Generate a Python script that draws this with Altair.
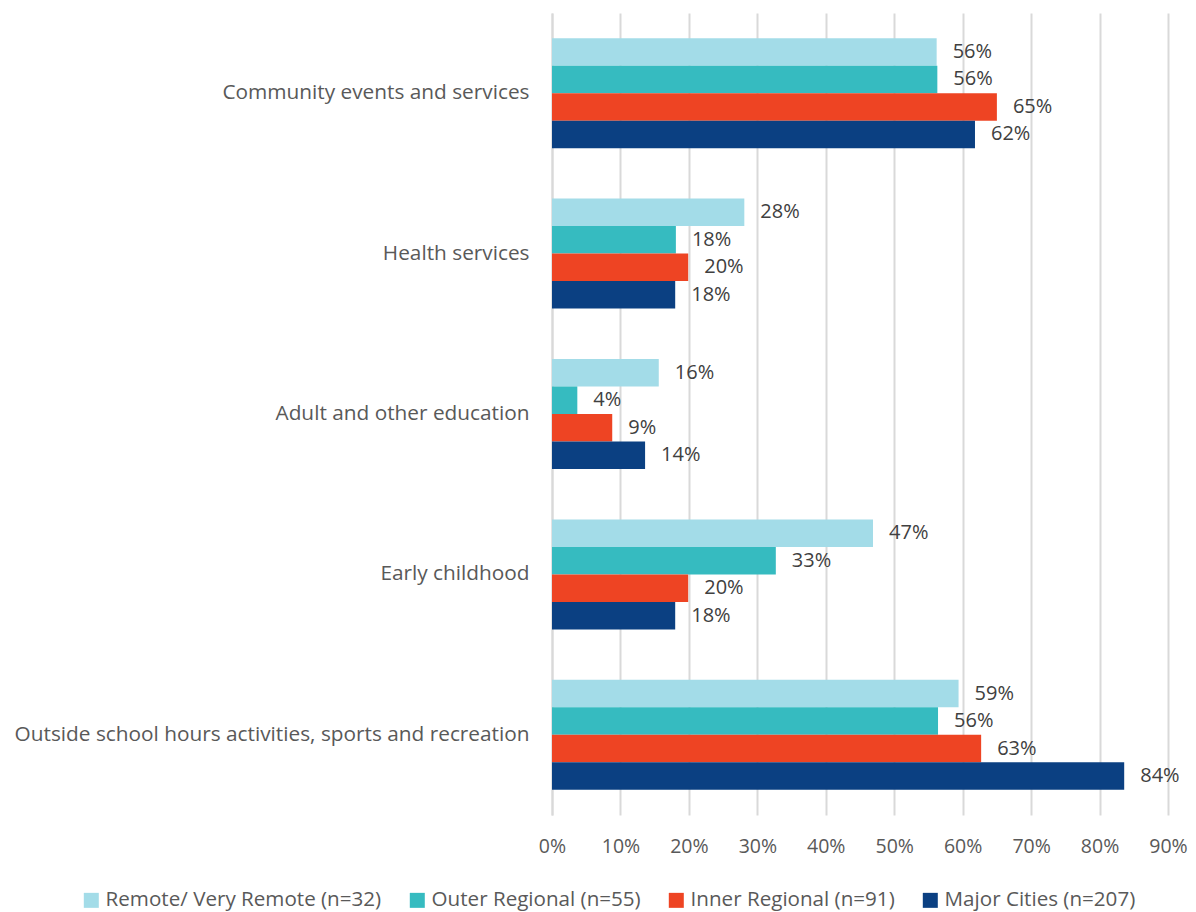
import altair as alt
import pandas as pd

categories = [
    "Community events and services",
    "Health services",
    "Adult and other education",
    "Early childhood",
    "Outside school hours activities, sports and recreation",
]
series = [
    "Remote/ Very Remote (n=32)",
    "Outer Regional (n=55)",
    "Inner Regional (n=91)",
    "Major Cities (n=207)",
]
remote = [56.2, 28.1, 15.6, 46.9, 59.4]
outer = [56.3, 18.1, 3.7, 32.7, 56.4]
inner = [65.0, 19.9, 8.8, 19.9, 62.7]
major = [61.8, 18.0, 13.6, 18.0, 83.6]
colors = ["#A3DCE8", "#36BBC0", "#EE4423", "#0B4082"]

rows = []
for s, vals in zip(series, [remote, outer, inner, major]):
    for c, v in zip(categories, vals):
        rows.append({"category": c, "series": s, "value": v / 100.0})
df = pd.DataFrame(rows)

FONT = "Open Sans"

y_enc = alt.Y(
    "category:N",
    sort=categories,
    scale=alt.Scale(paddingInner=0.314, paddingOuter=0.157),
    axis=alt.Axis(
        title=None,
        labelFontSize=20.8,
        labelColor="#595959",
        labelFont=FONT,
        labelPadding=23,
        labelLimit=600,
        ticks=False,
        domain=True,
        domainColor="#D9D9D9",
        domainWidth=2,
        grid=False,
    ),
)
x_enc = alt.X(
    "value:Q",
    scale=alt.Scale(domain=[0, 0.9], nice=False),
    axis=alt.Axis(
        title=None,
        format=".0%",
        values=[i / 10 for i in range(10)],
        labelFontSize=19.5,
        labelColor="#595959",
        labelFont=FONT,
        labelPadding=22,
        labelFlush=False,
        ticks=False,
        domain=False,
        grid=True,
        gridColor="#D9D9D9",
        gridWidth=2,
    ),
)
yoff = alt.YOffset("series:N", sort=series)

bars = alt.Chart(df).mark_bar().encode(
    y=y_enc,
    x=x_enc,
    yOffset=yoff,
    color=alt.Color(
        "series:N",
        sort=series,
        scale=alt.Scale(domain=series, range=colors),
        legend=alt.Legend(
            title=None,
            orient="none",
            legendX=-471,
            legendY=877,
            direction="horizontal",
            symbolType="square",
            symbolSize=225,
            symbolStrokeWidth=0,
            labelFontSize=20.6,
            labelFont=FONT,
            labelColor="#595959",
            labelOffset=4,
            columnPadding=25,
            labelLimit=400,
        ),
    ),
)

labels = alt.Chart(df).mark_text(
    align="left", baseline="middle", dx=16, fontSize=20, font=FONT, color="#404040"
).encode(
    y=alt.Y("category:N", sort=categories),
    x="value:Q",
    yOffset=yoff,
    text=alt.Text("value:Q", format=".0%"),
)

chart = (
    alt.layer(bars, labels)
    .properties(
        width=616,
        height=802,
        autosize=alt.AutoSizeParams(type="none"),
        padding={"left": 544, "top": 5, "right": 20, "bottom": 100},
    )
    .configure_view(stroke=None)
    .configure_scale(bandWithNestedOffsetPaddingInner=0, bandWithNestedOffsetPaddingOuter=0)
)

chart.save("out.html", embed_options={"renderer": "svg", "actions": False})
